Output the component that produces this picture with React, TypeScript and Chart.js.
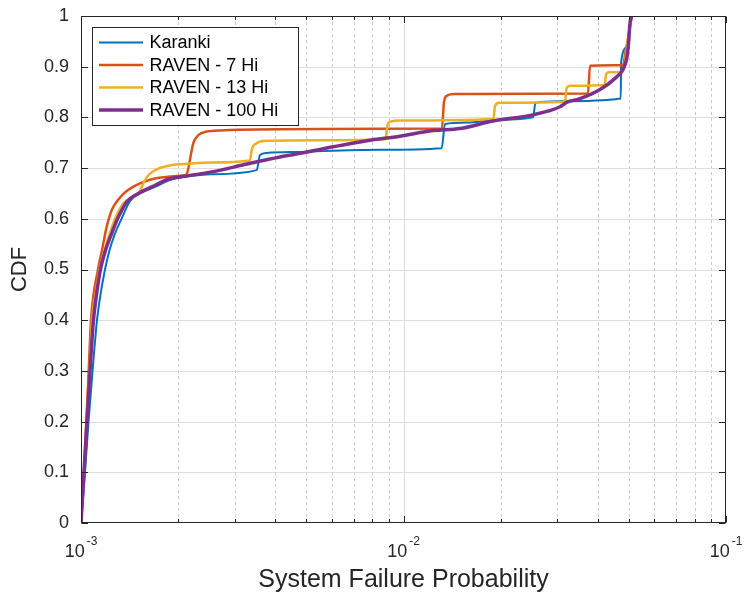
import React, { useEffect, useRef } from "react";
import { Chart, registerables } from "chart.js";

Chart.register(...registerables);

// Axis ticks
const xDecades = [1e-3, 1e-2, 1e-1];
const yTicks = [0, 0.1, 0.2, 0.3, 0.4, 0.5, 0.6, 0.7, 0.8, 0.9, 1];

// Karanki
const karankiX = [0.001, 0.001029, 0.001055, 0.001086, 0.001121, 0.001149, 0.0011869, 0.0012257, 0.0012748, 0.0013356, 0.0014187, 0.0015236, 0.001696, 0.001911, 0.002101, 0.002543, 0.003506, 0.003589, 0.003765, 0.004775, 0.00845, 0.01313, 0.01345, 0.01574, 0.01991, 0.02521, 0.02566, 0.03057, 0.04716, 0.0473, 0.0495, 0.0504, 0.051];
const karankiY = [0, 0.1, 0.2, 0.3, 0.4, 0.45, 0.5, 0.538, 0.571, 0.6, 0.635, 0.65, 0.663, 0.678, 0.683, 0.688, 0.696, 0.726, 0.73, 0.732, 0.736, 0.739, 0.787, 0.79, 0.795, 0.8, 0.829, 0.832, 0.8375, 0.91, 0.94, 0.985, 1.0];

// RAVEN - 7 Hi
const raven7X = [0.001, 0.0010216, 0.0010386, 0.0010565, 0.001074, 0.001129, 0.0011618, 0.001201, 0.001245, 0.0013022, 0.0013691, 0.0014495, 0.001524, 0.001657, 0.001865, 0.002101, 0.002127, 0.002229, 0.002311, 0.002454, 0.002897, 0.005508, 0.01316, 0.01335, 0.01364, 0.01444, 0.03733, 0.03787, 0.04794, 0.04881, 0.04986, 0.05101];
const raven7Y = [0, 0.1, 0.2, 0.3, 0.4, 0.5, 0.538, 0.584, 0.617, 0.637, 0.652, 0.663, 0.67, 0.678, 0.683, 0.686, 0.688, 0.749, 0.765, 0.772, 0.775, 0.777, 0.778, 0.83, 0.843, 0.846, 0.847, 0.902, 0.903, 0.93, 0.96, 1.0];

// RAVEN - 13 Hi
const raven13X = [0.001, 0.0010216, 0.00104, 0.0010626, 0.001082, 0.001109, 0.0011413, 0.001183, 0.00123, 0.001275, 0.001359, 0.00147, 0.001524, 0.001561, 0.001617, 0.001736, 0.001911, 0.002101, 0.002543, 0.003342, 0.003383, 0.003506, 0.003765, 0.005508, 0.008795, 0.00892, 0.009146, 0.00975, 0.01901, 0.01921, 0.01977, 0.03168, 0.03202, 0.03284, 0.04201, 0.04246, 0.04338, 0.04794, 0.04915, 0.05003, 0.05101];
const raven13Y = [0, 0.1, 0.2, 0.3, 0.4, 0.45, 0.5, 0.538, 0.572, 0.6, 0.632, 0.645, 0.655, 0.67, 0.686, 0.699, 0.706, 0.708, 0.711, 0.715, 0.736, 0.749, 0.754, 0.755, 0.757, 0.785, 0.792, 0.794, 0.797, 0.822, 0.829, 0.831, 0.857, 0.8625, 0.864, 0.884, 0.889, 0.89, 0.93, 0.97, 1.0];

// RAVEN - 100 Hi
const raven100X = [0.001, 0.0010216, 0.0010438, 0.0010664, 0.001093, 0.001117, 0.001149, 0.0011912, 0.001245, 0.001298, 0.001389, 0.001505, 0.001657, 0.001865, 0.002101, 0.002572, 0.003265, 0.004141, 0.004775, 0.006057, 0.00769, 0.00975, 0.01237, 0.01497, 0.01895, 0.02521, 0.03057, 0.03214, 0.03527, 0.04068, 0.04528, 0.04805, 0.04922, 0.04978, 0.05039, 0.05101];
const raven100Y = [0, 0.1, 0.2, 0.3, 0.4, 0.45, 0.5, 0.538, 0.571, 0.6, 0.634, 0.65, 0.663, 0.678, 0.684, 0.693, 0.708, 0.722, 0.729, 0.742, 0.754, 0.763, 0.774, 0.778, 0.793, 0.805, 0.821, 0.83, 0.837, 0.855, 0.877, 0.896, 0.916, 0.94, 0.986, 1.0];

const seriesNames = ["Karanki", "RAVEN - 7 Hi", "RAVEN - 13 Hi", "RAVEN - 100 Hi"];
const seriesColors = ["#0072BD", "#D95319", "#EDB120", "#7E2F8E"];
const seriesWidths = [2, 2.5, 2.5, 3.5];

const FONT = "'Liberation Sans', Arial, Helvetica, sans-serif";
const INK = "#262626";

const toPoints = (xs: number[], ys: number[]) => xs.map((x, i) => ({ x, y: ys[i] }));

// Grid, box, inward ticks, superscript decade labels and the boxed legend.
const matlabFrame = {
  id: "matlabFrame",
  beforeDatasetsDraw(chart: any) {
    const { ctx, chartArea: a, scales } = chart;
    const xs = scales.x;
    const ys = scales.y;
    ctx.save();
    ctx.lineWidth = 1;
    // minor log grid (dotted)
    ctx.strokeStyle = "#c9c9c9";
    ctx.setLineDash([3, 3]);
    for (const d of xDecades.slice(0, -1)) {
      for (let m = 2; m <= 9; m++) {
        const px = Math.round(xs.getPixelForValue(d * m)) + 0.5;
        ctx.beginPath();
        ctx.moveTo(px, a.top);
        ctx.lineTo(px, a.bottom);
        ctx.stroke();
      }
    }
    ctx.setLineDash([]);
    // major grid
    ctx.strokeStyle = "#dedede";
    for (const d of xDecades.slice(1, -1)) {
      const px = Math.round(xs.getPixelForValue(d)) + 0.5;
      ctx.beginPath();
      ctx.moveTo(px, a.top);
      ctx.lineTo(px, a.bottom);
      ctx.stroke();
    }
    for (const v of yTicks.slice(1, -1)) {
      const py = Math.round(ys.getPixelForValue(v)) + 0.5;
      ctx.beginPath();
      ctx.moveTo(a.left, py);
      ctx.lineTo(a.right, py);
      ctx.stroke();
    }
    ctx.restore();
  },
  afterDatasetsDraw(chart: any) {
    const { ctx, chartArea: a, scales } = chart;
    const xs = scales.x;
    const ys = scales.y;
    const L = Math.round(a.left) + 0.5;
    const R = Math.round(a.right) - 0.5;
    const T = Math.round(a.top) + 0.5;
    const B = Math.round(a.bottom) - 0.5;
    ctx.save();
    ctx.strokeStyle = INK;
    ctx.lineWidth = 1;
    ctx.strokeRect(L, T, R - L, B - T);
    const major = 6.5;
    const minor = 3.5;
    ctx.beginPath();
    for (const v of yTicks) {
      const py = Math.round(ys.getPixelForValue(v)) + 0.5;
      ctx.moveTo(L, py);
      ctx.lineTo(L + major, py);
      ctx.moveTo(R, py);
      ctx.lineTo(R - major, py);
    }
    xDecades.forEach((d, i) => {
      const px = Math.round(xs.getPixelForValue(d)) + 0.5;
      ctx.moveTo(px, B);
      ctx.lineTo(px, B - major);
      ctx.moveTo(px, T);
      ctx.lineTo(px, T + major);
      if (i < xDecades.length - 1) {
        for (let m = 2; m <= 9; m++) {
          const qx = Math.round(xs.getPixelForValue(d * m)) + 0.5;
          ctx.moveTo(qx, B);
          ctx.lineTo(qx, B - minor);
          ctx.moveTo(qx, T);
          ctx.lineTo(qx, T + minor);
        }
      }
    });
    ctx.stroke();

    // decade labels: 10 with a raised exponent
    ctx.fillStyle = INK;
    ctx.textBaseline = "alphabetic";
    ctx.textAlign = "left";
    for (const d of xDecades) {
      const px = xs.getPixelForValue(d);
      const base = "10";
      const exp = String(Math.round(Math.log10(d)));
      ctx.font = `18px ${FONT}`;
      const wb = ctx.measureText(base).width;
      ctx.font = `12px ${FONT}`;
      const we = ctx.measureText(exp).width;
      const gap = 2;
      const x0 = px - (wb + gap + we) / 2;
      ctx.font = `18px ${FONT}`;
      ctx.fillText(base, x0, a.bottom + 34);
      ctx.font = `12px ${FONT}`;
      ctx.fillText(exp, x0 + wb + gap, a.bottom + 22);
    }
    ctx.restore();
  },
  afterDraw(chart: any) {
    const { ctx, chartArea: a } = chart;
    const bx = a.left + 11.5;
    const by = a.top + 11.5;
    const bw = 206;
    const bh = 98;
    ctx.save();
    ctx.fillStyle = "#ffffff";
    ctx.fillRect(bx, by, bw, bh);
    ctx.strokeStyle = INK;
    ctx.lineWidth = 1;
    ctx.strokeRect(bx, by, bw, bh);
    ctx.font = `18px ${FONT}`;
    ctx.textBaseline = "middle";
    ctx.textAlign = "left";
    chart.data.datasets.forEach((ds: any, i: number) => {
      const ry = by + 15 + i * 22.5;
      ctx.strokeStyle = ds.borderColor;
      ctx.lineWidth = ds.borderWidth;
      ctx.beginPath();
      ctx.moveTo(bx + 6.5, ry);
      ctx.lineTo(bx + 50.5, ry);
      ctx.stroke();
      ctx.fillStyle = "#000000";
      ctx.fillText(ds.label, bx + 57, ry + 1);
    });
    ctx.restore();
  },
};

export default function App() {
  const canvasRef = useRef<HTMLCanvasElement>(null);

  useEffect(() => {
    const canvas = canvasRef.current;
    if (!canvas) return;
    const xsList = [karankiX, raven7X, raven13X, raven100X];
    const ysList = [karankiY, raven7Y, raven13Y, raven100Y];
    const chart = new Chart(canvas, {
      type: "line",
      data: {
        datasets: seriesNames.map((name, i) => ({
          label: name,
          data: toPoints(xsList[i], ysList[i]),
          borderColor: seriesColors[i],
          backgroundColor: seriesColors[i],
          borderWidth: seriesWidths[i],
          pointRadius: 0,
          pointHoverRadius: 0,
          tension: 0,
          cubicInterpolationMode: "monotone",
          fill: false,
          borderJoinStyle: "round",
          order: seriesNames.length - 1 - i,
        })),
      },
      options: {
        animation: false,
        responsive: false,
        events: [],
        layout: { padding: { left: 0, top: 16, right: 19, bottom: 0 } },
        plugins: {
          legend: { display: false },
          tooltip: { enabled: false },
        },
        scales: {
          x: {
            type: "logarithmic",
            min: xDecades[0],
            max: xDecades[xDecades.length - 1],
            grid: { display: false, drawTicks: false },
            border: { display: false },
            ticks: { display: false },
            title: {
              display: true,
              text: "System Failure Probability",
              color: INK,
              font: { family: FONT, size: 25 },
              padding: { top: 0, bottom: 0 },
            },
            afterFit: (scale: any) => {
              scale.height = 72;
              scale.paddingLeft = 0;
              scale.paddingRight = 0;
            },
          },
          y: {
            type: "linear",
            min: 0,
            max: 1,
            grid: { display: false, drawTicks: false },
            border: { display: false },
            afterBuildTicks: (scale: any) => {
              scale.ticks = yTicks.map((v) => ({ value: v }));
            },
            ticks: {
              padding: 12,
              color: INK,
              font: { family: FONT, size: 18 },
              callback: (v: any) => (v === 0 || v === 1 ? String(v) : Number(v).toFixed(1)),
            },
            title: {
              display: true,
              text: "CDF",
              color: INK,
              font: { family: FONT, size: 22 },
              padding: { top: 7, bottom: 0 },
            },
            afterFit: (scale: any) => {
              scale.width = 81;
              scale.paddingTop = 0;
              scale.paddingBottom = 0;
            },
          },
        },
      },
      plugins: [matlabFrame],
    });
    return () => chart.destroy();
  }, []);

  return (
    <div style={{ position: "absolute", left: 0, top: 0, width: 745, height: 595, background: "#ffffff" }}>
      <canvas ref={canvasRef} width={745} height={595} style={{ display: "block" }} />
    </div>
  );
}
